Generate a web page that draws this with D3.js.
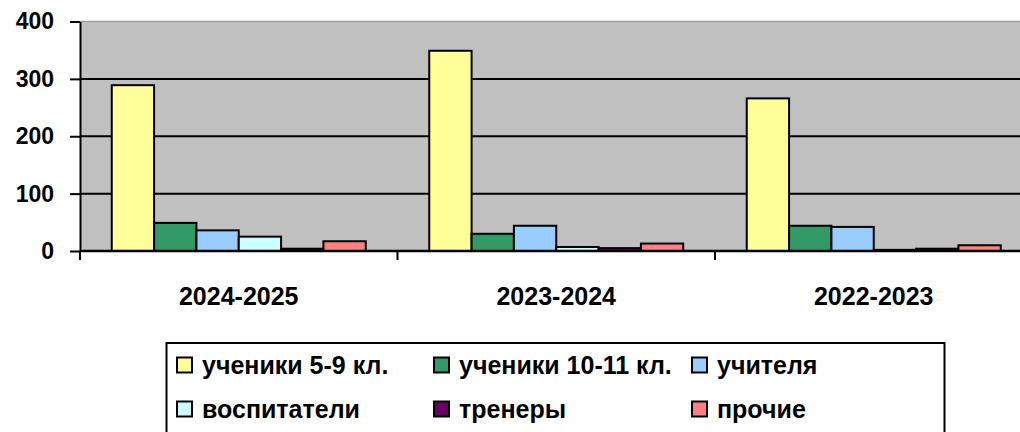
<!DOCTYPE html>
<html>
<head>
<meta charset="utf-8">
<script src="https://cdn.jsdelivr.net/npm/d3@7"></script>
<style>
  body { margin: 0; background: #fff; }
  text { font-family: "Liberation Sans", Arial, sans-serif; font-weight: bold; fill: #000; }
</style>
</head>
<body>
<svg width="1020" height="432"></svg>
<script>
var categories = ['2024-2025', '2023-2024', '2022-2023'];
var seriesNames = ['ученики 5-9 кл.', 'ученики 10-11 кл.', 'учителя', 'воспитатели', 'тренеры', 'прочие'];
var pupils59 = [289, 349, 266];
var pupils1011 = [49, 30, 44];
var teachers = [36, 44, 42];
var educators = [25, 7, 2];
var coaches = [4, 5, 4];
var others = [17, 13, 10];
var yTicks = [0, 100, 200, 300, 400];
var colors = ['#ffff99', '#339966', '#99ccff', '#ccffff', '#660066', '#ff8080'];

var seriesValues = [pupils59, pupils1011, teachers, educators, coaches, others];

var svg = d3.select('svg');

var margin = {top: 21.5, left: 80};
var plotRight = 1032.5;
var plotBottom = 251;

// category scale (plot runs past the right edge like the original)
var xScale = d3.scaleBand()
  .domain(categories)
  .range([margin.left, plotRight]);

// bars inside one category: gap of 1.5 bar widths
var xInner = d3.scaleBand()
  .domain(d3.range(seriesNames.length))
  .range([0, xScale.bandwidth()])
  .paddingInner(0)
  .paddingOuter(0.75);

var yScale = d3.scaleLinear()
  .domain([0, 400])
  .range([plotBottom, margin.top]);

// plot background
svg.append('rect')
  .attr('x', margin.left)
  .attr('y', margin.top)
  .attr('width', plotRight - margin.left)
  .attr('height', plotBottom - margin.top)
  .attr('fill', '#c0c0c0');

svg.append('line')
  .attr('x1', margin.left).attr('x2', plotRight)
  .attr('y1', margin.top).attr('y2', margin.top)
  .attr('stroke', '#a0a0a0').attr('stroke-width', 1.5);

// gridlines
svg.append('g').selectAll('line')
  .data(yTicks.filter(d => d > 0 && d < 400))
  .enter().append('line')
  .attr('x1', margin.left).attr('x2', plotRight)
  .attr('y1', d => yScale(d)).attr('y2', d => yScale(d))
  .attr('stroke', '#000').attr('stroke-width', 2);

// bars
var groups = svg.append('g').selectAll('g')
  .data(categories)
  .enter().append('g')
  .attr('transform', d => 'translate(' + xScale(d) + ',0)');

groups.selectAll('rect')
  .data((c, ci) => seriesValues.map((vals, si) => ({si: si, v: vals[ci]})))
  .enter().append('rect')
  .attr('x', d => xInner(d.si))
  .attr('width', xInner.bandwidth())
  .attr('y', d => yScale(d.v))
  .attr('height', d => plotBottom - yScale(d.v))
  .attr('fill', d => colors[d.si])
  .attr('stroke', '#000')
  .attr('stroke-width', 2);

// y axis
var yAxis = d3.axisLeft(yScale)
  .tickValues(yTicks)
  .tickSize(10)
  .tickSizeOuter(0)
  .tickPadding(16);

var gy = svg.append('g')
  .attr('transform', 'translate(' + margin.left + ',0)')
  .call(yAxis);
gy.select('.domain').attr('stroke', '#000').attr('stroke-width', 2);
gy.selectAll('.tick line').attr('stroke', '#000').attr('stroke-width', 2);
gy.selectAll('.tick text')
  .style('font-family', '"Liberation Sans", Arial, sans-serif')
  .style('font-weight', 'bold')
  .style('font-size', '23px')
  .attr('fill', '#000');

// x axis line and boundary ticks
svg.append('line')
  .attr('x1', margin.left).attr('x2', plotRight)
  .attr('y1', plotBottom).attr('y2', plotBottom)
  .attr('stroke', '#000').attr('stroke-width', 2.5);

svg.append('g').selectAll('line')
  .data(categories)
  .enter().append('line')
  .attr('x1', d => xScale(d)).attr('x2', d => xScale(d))
  .attr('y1', plotBottom).attr('y2', plotBottom + 9)
  .attr('stroke', '#000').attr('stroke-width', 2);

// category labels
var xAxis = d3.axisBottom(xScale).tickSize(0).tickPadding(0);
var gx = svg.append('g')
  .attr('transform', 'translate(0,' + plotBottom + ')')
  .call(xAxis);
gx.select('.domain').remove();
gx.selectAll('.tick text')
  .attr('dy', null)
  .attr('y', 54)
  .style('font-family', '"Liberation Sans", Arial, sans-serif')
  .style('font-weight', 'bold')
  .style('font-size', '25px')
  .attr('fill', '#000');

// legend
var legend = svg.append('g');
legend.append('rect')
  .attr('x', 166.5).attr('y', 343)
  .attr('width', 778).attr('height', 100)
  .attr('fill', '#fff')
  .attr('stroke', '#000').attr('stroke-width', 2);

var colX = [177, 434, 692];
var rowY = [365, 409];

var items = legend.selectAll('g.item')
  .data(seriesNames)
  .enter().append('g')
  .attr('class', 'item')
  .attr('transform', (d, i) => 'translate(' + colX[i % 3] + ',' + rowY[Math.floor(i / 3)] + ')');

items.append('rect')
  .attr('x', 0).attr('y', -7.5)
  .attr('width', 15).attr('height', 15)
  .attr('fill', (d, i) => colors[i])
  .attr('stroke', '#000').attr('stroke-width', 2);

items.append('text')
  .attr('x', 25)
  .attr('y', 9)
  .style('font-size', '25px')
  .text(d => d);
</script>
</body>
</html>
